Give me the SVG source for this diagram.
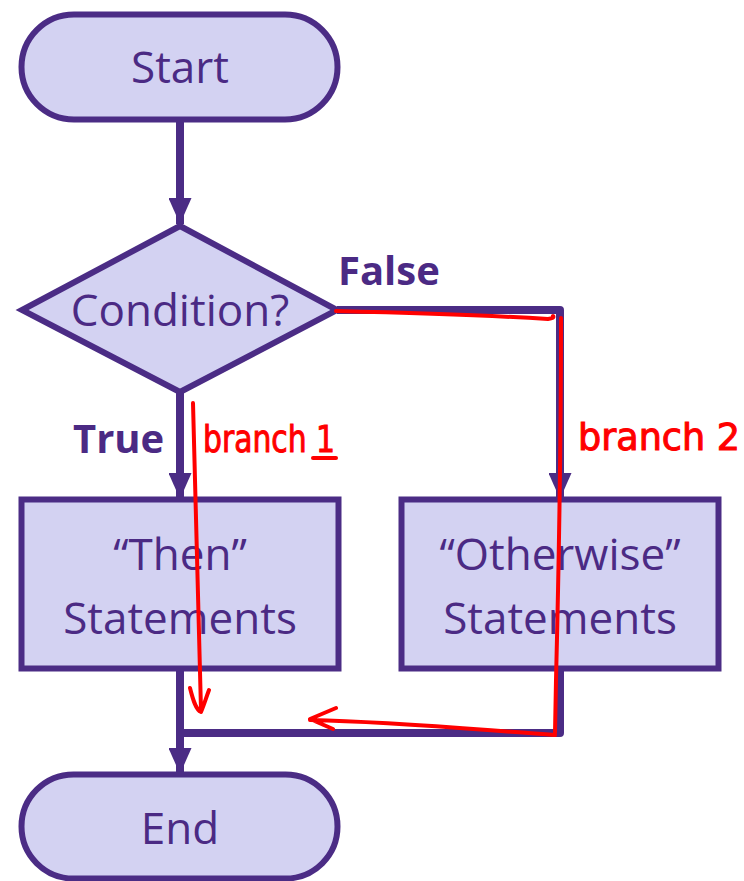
<svg xmlns="http://www.w3.org/2000/svg" width="744" height="881" viewBox="0 0 744 881">
<defs>
<style>
.node{fill:#d3d2f2;stroke:#4b2c85;stroke-width:6}
.lbl{font-family:"Open Sans","Noto Sans",sans-serif;font-size:44px;fill:#4b2a84;text-anchor:middle}
.bold{font-family:"Open Sans","Noto Sans",sans-serif;font-size:40px;font-weight:bold;fill:#4b2a84}
.conn{fill:none;stroke:#4b2c85;stroke-width:8;stroke-linejoin:round}
.red{fill:none;stroke:#ff0000;stroke-width:4;stroke-linecap:round;stroke-linejoin:round}
.hand{font-family:"DejaVu Sans Condensed","DejaVu Sans",sans-serif;font-size:38px;fill:#ff0000;stroke:#ff0000;stroke-width:1}
</style>
<marker id="ah" viewBox="0 0 26 23" refX="26" refY="11.5" markerWidth="26" markerHeight="23" markerUnits="userSpaceOnUse" orient="auto">
<path d="M0,0 L26,11.5 L0,23 Z" fill="#4b2c85"/>
</marker>
</defs>
<g id="connectors">
<path class="conn" d="M180,120 V224" marker-end="url(#ah)"/>
<path class="conn" d="M337,310 H560 V499" marker-end="url(#ah)"/>
<path class="conn" d="M180,393 V499" marker-end="url(#ah)"/>
<path class="conn" d="M180,669 V733 H560 V669"/>
<path class="conn" d="M180,733 V774" marker-end="url(#ah)"/>
</g>
<g id="start">
<rect class="node" x="21.5" y="14.5" width="316" height="105" rx="52.5"/>
<text class="lbl" x="180" y="83">Start</text>
</g>
<g id="condition">
<polygon class="node" points="180,226 337,310 180,392 22,310"/>
<text class="lbl" x="180" y="326">Condition?</text>
</g>
<g id="then">
<rect class="node" x="21.5" y="499.5" width="317" height="169"/>
<text class="lbl" x="180" y="570">“Then”</text>
<text class="lbl" x="180" y="634">Statements</text>
</g>
<g id="otherwise">
<rect class="node" x="401.5" y="499.5" width="317" height="169"/>
<text class="lbl" x="560" y="570">“Otherwise”</text>
<text class="lbl" x="560" y="634">Statements</text>
</g>
<g id="end">
<rect class="node" x="21.5" y="774.5" width="316" height="104" rx="52"/>
<text class="lbl" x="180" y="844">End</text>
</g>
<g id="labels">
<text class="bold" x="338" y="285">False</text>
<text class="bold" x="73" y="453">True</text>
</g>
<g id="annotations">
<path class="red" d="M336,311 C420,313 500,316 548,319 Q555,318 553,316"/>
<path class="red" d="M561,318 C561,450 558,600 556,680 L555,733"/>
<path class="red" d="M555,735 C480,730 400,722 310,720 M336,708 L310,719 L333,729"/>
<path class="red" d="M193,403 C195,500 199,600 201,710 M190,688 C193,700 196,710 201,712 C204,705 206,698 209,690"/>
<text class="hand" x="203" y="452" textLength="132" lengthAdjust="spacingAndGlyphs">branch 1</text>
<path class="red" d="M313,458 L336,458"/>
<text class="hand" x="578" y="450" textLength="162" lengthAdjust="spacingAndGlyphs">branch 2</text>
</g>
</svg>
